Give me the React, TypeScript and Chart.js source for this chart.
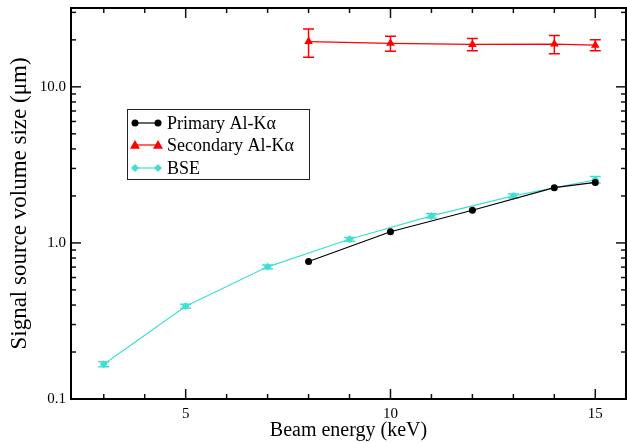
import React, { useEffect, useRef } from 'react';
import { Chart, registerables } from 'chart.js';

Chart.register(...registerables);

// ---- data ----
const seriesLabels = ['Primary Al-K\u03b1', 'Secondary Al-K\u03b1', 'BSE'];

const energyPrimary = [8, 10, 12, 14, 15];
const sizePrimary = [0.76, 1.18, 1.62, 2.26, 2.44];
const errPrimary = [0, 0, 0, 0, 0];

const energySecondary = [8, 10, 12, 14, 15];
const sizeSecondary = [19.5, 19.0, 18.7, 18.8, 18.5];
const errSecondary = [4.0, 2.1, 1.7, 2.5, 1.5];

const energyBSE = [3, 5, 7, 9, 11, 13, 15];
const sizeBSE = [0.167, 0.393, 0.703, 1.055, 1.49, 2.0, 2.54];
const errBSE = [0.006, 0.012, 0.02, 0.03, 0.045, 0.06, 0.12];

const xMajorTicks = [5, 10, 15];
const xMinorTicks = [3, 4, 6, 7, 8, 9, 11, 12, 13, 14];
const yMajorTicks = [0.1, 1, 10];
const yMinorTicks = [0.2, 0.3, 0.4, 0.5, 0.6, 0.7, 0.8, 0.9, 2, 3, 4, 5, 6, 7, 8, 9, 20, 30];

const X_MIN = 2.2;
const X_MAX = 15.75;
const Y_MIN = 0.1;
const Y_MAX = 32;

const FONT = '"Liberation Serif", "Times New Roman", serif';

const toPoints = (xs: number[], ys: number[]) => xs.map((x, i) => ({ x, y: ys[i] }));

function drawMarker(ctx: CanvasRenderingContext2D, style: string, x: number, y: number, r: number, color: string) {
  ctx.save();
  ctx.fillStyle = color;
  ctx.beginPath();
  if (style === 'circle') {
    ctx.arc(x, y, r, 0, Math.PI * 2);
  } else if (style === 'triangle') {
    ctx.moveTo(x, y - r);
    ctx.lineTo(x + r, y + r * 0.75);
    ctx.lineTo(x - r, y + r * 0.75);
    ctx.closePath();
  } else {
    ctx.moveTo(x, y - r);
    ctx.lineTo(x + r, y);
    ctx.lineTo(x, y + r);
    ctx.lineTo(x - r, y);
    ctx.closePath();
  }
  ctx.fill();
  ctx.restore();
}

const errorBarPlugin = {
  id: 'errorBars',
  beforeDatasetsDraw(chart: any) {
    const { ctx } = chart;
    const xs = chart.scales.x;
    const ys = chart.scales.y;
    chart.data.datasets.forEach((ds: any) => {
      const errs: number[] = ds.errorBars || [];
      ctx.save();
      ctx.strokeStyle = ds.errorColor || ds.borderColor;
      ctx.lineWidth = 1.5;
      ds.data.forEach((p: any, i: number) => {
        const e = errs[i];
        if (!e) return;
        const px = xs.getPixelForValue(p.x);
        const top = ys.getPixelForValue(p.y + e);
        const bot = ys.getPixelForValue(Math.max(p.y - e, Y_MIN));
        ctx.beginPath();
        ctx.moveTo(px, top);
        ctx.lineTo(px, bot);
        ctx.moveTo(px - 5.5, top);
        ctx.lineTo(px + 5.5, top);
        ctx.moveTo(px - 5.5, bot);
        ctx.lineTo(px + 5.5, bot);
        ctx.stroke();
      });
      ctx.restore();
    });
  },
};

const framePlugin = {
  id: 'frameTicks',
  afterDraw(chart: any) {
    const { ctx, chartArea } = chart;
    const { left, right, top, bottom } = chartArea;
    const xs = chart.scales.x;
    const ys = chart.scales.y;
    ctx.save();
    ctx.strokeStyle = '#111';
    ctx.lineWidth = 1.5;
    const tick = (x1: number, y1: number, x2: number, y2: number) => {
      ctx.beginPath();
      ctx.moveTo(x1, y1);
      ctx.lineTo(x2, y2);
      ctx.stroke();
    };
    xMajorTicks.forEach((v) => {
      const px = xs.getPixelForValue(v);
      tick(px, bottom, px, bottom - 10);
      tick(px, top, px, top + 10);
    });
    xMinorTicks.forEach((v) => {
      const px = xs.getPixelForValue(v);
      tick(px, bottom, px, bottom - 5);
      tick(px, top, px, top + 5);
    });
    yMajorTicks.forEach((v) => {
      const py = ys.getPixelForValue(v);
      tick(left, py, left + 10, py);
      tick(right, py, right - 10, py);
    });
    yMinorTicks.forEach((v) => {
      const py = ys.getPixelForValue(v);
      tick(left, py, left + 5, py);
      tick(right, py, right - 5, py);
    });
    ctx.lineWidth = 2;
    ctx.strokeStyle = '#000';
    ctx.strokeRect(left, top, right - left, bottom - top);
    ctx.restore();
  },
};

const legendPlugin = {
  id: 'xyLegend',
  afterDraw(chart: any) {
    const { ctx } = chart;
    ctx.save();
    ctx.fillStyle = '#fff';
    ctx.fillRect(127, 109, 182, 70);
    ctx.strokeStyle = '#222';
    ctx.lineWidth = 1;
    ctx.strokeRect(127.5, 109.5, 182, 70);
    const rows = [123, 145, 168];
    chart.data.datasets.forEach((ds: any, i: number) => {
      const y = rows[i];
      ctx.strokeStyle = ds.borderColor;
      ctx.lineWidth = 1.2;
      ctx.beginPath();
      ctx.moveTo(135, y);
      ctx.lineTo(158, y);
      ctx.stroke();
      drawMarker(ctx, ds.pointStyle, 135, y, ds.pointRadius, ds.backgroundColor);
      drawMarker(ctx, ds.pointStyle, 158, y, ds.pointRadius, ds.backgroundColor);
      ctx.fillStyle = '#000';
      ctx.font = `18px ${FONT}`;
      ctx.textBaseline = 'middle';
      ctx.textAlign = 'left';
      ctx.fillText(ds.label, 167, y + 1);
    });
    ctx.restore();
  },
};

const zeroPadding = (s: any) => {
  s.paddingTop = 0;
  s.paddingBottom = 0;
  s.paddingLeft = 0;
  s.paddingRight = 0;
};

export default function App() {
  const canvasRef = useRef<HTMLCanvasElement | null>(null);

  useEffect(() => {
    document.body.style.margin = '0';
    const canvas = canvasRef.current;
    if (!canvas) return;
    const chart = new Chart(canvas, {
      type: 'line',
      data: {
        datasets: [
          {
            label: seriesLabels[0],
            data: toPoints(energyPrimary, sizePrimary),
            borderColor: '#000000',
            backgroundColor: '#000000',
            borderWidth: 1.2,
            pointStyle: 'circle',
            pointRadius: 3.5,
            pointBorderWidth: 0,
            errorBars: errPrimary,
          } as any,
          {
            label: seriesLabels[1],
            data: toPoints(energySecondary, sizeSecondary),
            borderColor: '#ff0000',
            backgroundColor: '#ff0000',
            borderWidth: 1.2,
            pointStyle: 'triangle',
            pointRadius: 5,
            pointBorderWidth: 0,
            errorBars: errSecondary,
          } as any,
          {
            label: seriesLabels[2],
            data: toPoints(energyBSE, sizeBSE),
            borderColor: '#40e0d0',
            backgroundColor: '#40e0d0',
            borderWidth: 1.2,
            pointStyle: 'rectRot',
            pointRadius: 4,
            pointBorderWidth: 0,
            errorBars: errBSE,
          } as any,
        ],
      },
      options: {
        animation: false,
        responsive: false,
        events: [],
        layout: { autoPadding: false, padding: { top: 8, right: 1, left: 0, bottom: 0 } },
        plugins: {
          legend: { display: false },
          tooltip: { enabled: false },
        },
        scales: {
          x: {
            type: 'linear',
            min: X_MIN,
            max: X_MAX,
            afterFit: (s: any) => {
              s.height = 44;
              zeroPadding(s);
            },
            afterBuildTicks: (s: any) => {
              s.ticks = xMajorTicks.map((v) => ({ value: v }));
            },
            grid: { display: false, drawTicks: false },
            border: { display: false },
            ticks: {
              color: '#000',
              font: { family: FONT, size: 15 },
              padding: 6,
              maxRotation: 0,
              autoSkip: false,
              callback: (v: any) => String(v),
            },
            title: {
              display: true,
              text: 'Beam energy (keV)',
              color: '#000',
              font: { family: FONT, size: 20 },
              padding: { top: 0, bottom: 0 },
            },
          },
          y: {
            type: 'logarithmic',
            min: Y_MIN,
            max: Y_MAX,
            afterFit: (s: any) => {
              s.width = 71;
              zeroPadding(s);
            },
            afterBuildTicks: (s: any) => {
              s.ticks = yMajorTicks.map((v) => ({ value: v }));
            },
            grid: { display: false, drawTicks: false },
            border: { display: false },
            ticks: {
              color: '#000',
              font: { family: FONT, size: 15 },
              padding: 5,
              autoSkip: false,
              callback: (v: any) => Number(v).toFixed(1),
            },
            title: {
              display: true,
              text: 'Signal source volume size (\u03bcm)',
              color: '#000',
              font: { family: FONT, size: 23 },
              padding: { top: 6, bottom: 0 },
            },
          },
        },
      } as any,
      plugins: [errorBarPlugin, framePlugin, legendPlugin],
    });
    return () => chart.destroy();
  }, []);

  return (
    <div style={{ width: 627, height: 443 }}>
      <canvas ref={canvasRef} width={627} height={443} style={{ display: 'block' }} />
    </div>
  );
}
